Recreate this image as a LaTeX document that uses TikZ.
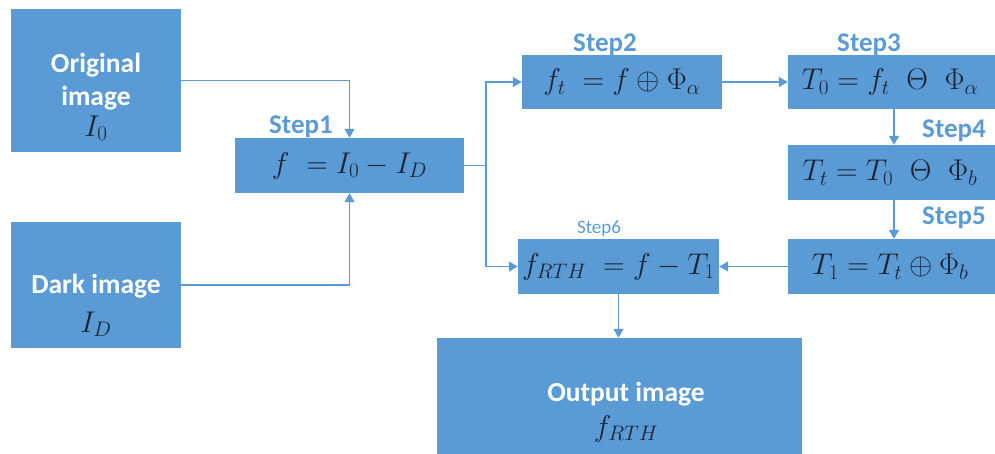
\RequirePackage{fix-cm}
\documentclass[tikz,border=0pt]{standalone}
\usepackage[no-math]{fontspec}
\setsansfont{Carlito}
\usetikzlibrary{arrows.meta}
\definecolor{boxblue}{HTML}{5B9BD5}
\definecolor{inkdark}{HTML}{1C2333}
\tikzset{
  box/.style={draw=none, fill=boxblue, inner sep=0pt, text=inkdark,
    font=\fontsize{30}{34}\selectfont},
  wtext/.style={text=white, font=\sffamily\bfseries\fontsize{27.5}{33}\selectfont, inner sep=0pt, anchor=base},
  mtext/.style={text=inkdark, font=\fontsize{30}{34}\selectfont, inner sep=0pt, anchor=base},
  steplbl/.style={text=boxblue, font=\sffamily\bfseries\fontsize{27}{32}\selectfont, inner sep=0pt, anchor=base},
  steplblsmall/.style={text=boxblue, font=\sffamily\fontsize{19}{23}\selectfont, inner sep=0pt, anchor=base},
  conn/.style={draw=boxblue, line width=1.5pt, -{Triangle[width=10pt,length=9pt]}},
  plainline/.style={draw=boxblue, line width=1.5pt},
}
\begin{document}
\begin{tikzpicture}[x=1pt,y=-1pt]
\useasboundingbox (0,0) rectangle (995,453);
% input boxes
\node[box, minimum width=170pt, minimum height=143pt] (orig) at (96,80.5) {};
\node[wtext] (origA) at (96,72) {Original};
\node[wtext] (origB) at (96,105) {image};
\node[mtext] (origC) at (96,136) {$I_0$};
\node[box, minimum width=170pt, minimum height=126pt] (dark) at (96,285) {};
\node[wtext] (darkA) at (96,293) {Dark image};
\node[mtext] (darkB) at (96,332) {$I_D$};
% step boxes
\node[box, minimum width=229pt, minimum height=55pt] (s1) at (349.5,165.5) {$f\;=I_0-I_D$\hspace{36pt}};
\node[box, minimum width=200pt, minimum height=54pt] (s2) at (622,82) {$f_t\;=f\oplus\Phi_\alpha$};
\node[box, minimum width=212pt, minimum height=54pt] (s3) at (894,82) {\hspace{-8pt}$T_0=f_t\;\;\Theta\;\;\Phi_\alpha$};
\node[box, minimum width=212pt, minimum height=55pt] (s4) at (894,172.5) {\hspace{-8pt}$T_t=T_0\;\;\Theta\;\;\Phi_b$};
\node[box, minimum width=212pt, minimum height=55pt] (s5) at (894,266.5) {\hspace{-8pt}$T_1=T_t\oplus\Phi_b$};
\node[box, minimum width=201pt, minimum height=55pt] (s6) at (618.5,266.5) {$f_{RTH}\;=f-T_1$};
\node[box, minimum width=365pt, minimum height=132pt] (out) at (619.5,404) {};
\node[wtext] (outA) at (626,401) {Output image};
\node[mtext] (outB) at (626,436) {$f_{RTH}$};
% step labels
\node[steplbl] (l1) at (301,133) {Step1};
\node[steplbl] (l2) at (605,51) {Step2};
\node[steplbl] (l3) at (869,51) {Step3};
\node[steplbl] (l4) at (954,137) {Step4};
\node[steplbl] (l5) at (954,224) {Step5};
\node[steplblsmall] (l6) at (599,233) {Step6};
% connectors
\coordinate (j) at (486,165.5);
\draw[conn] (orig.east) -| (s1.north);
\draw[conn] (dark.east) -| (s1.south);
\draw[plainline] (s1.east) -- (j);
\draw[conn] (j) |- (s2.west);
\draw[conn] (j) |- (s6.west);
\draw[conn] (s2.east) -- (s3.west);
\draw[conn] (s3.south) -- (s4.north);
\draw[conn] (s4.south) -- (s5.north);
\draw[conn] (s5.west) -- (s6.east);
\draw[conn] (s6.south) -- (s6.south |- out.north);
\end{tikzpicture}
\end{document}
